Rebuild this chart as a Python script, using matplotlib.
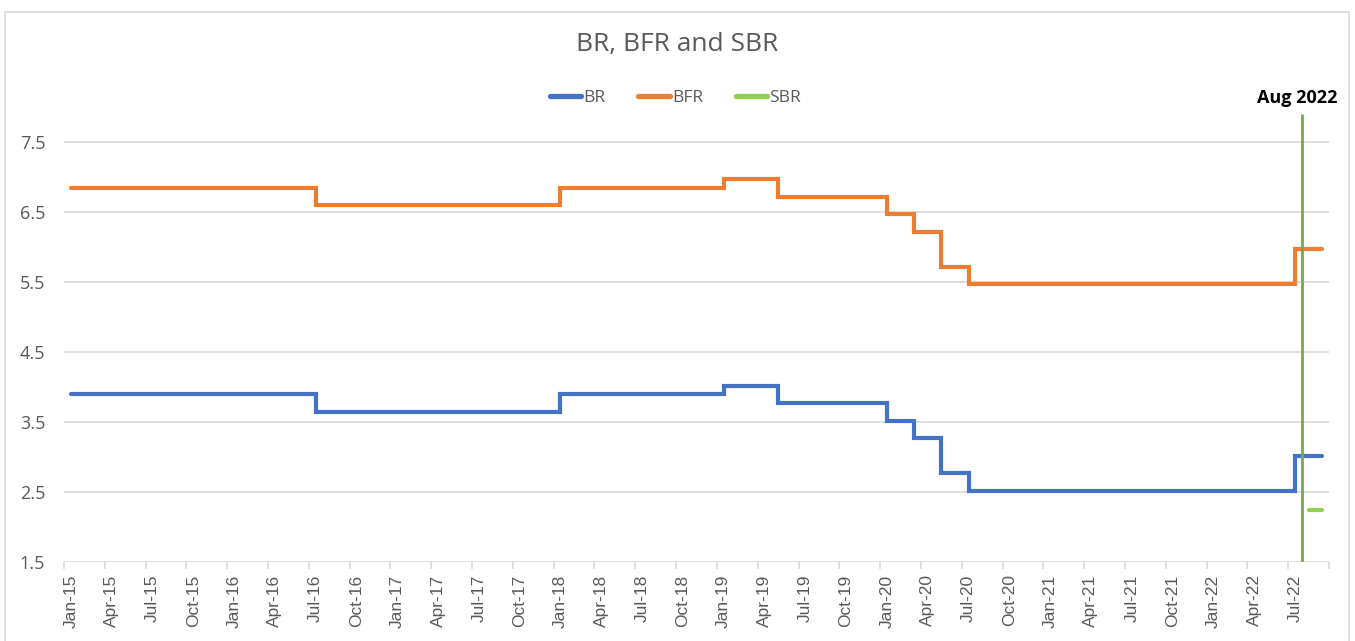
import matplotlib
matplotlib.use("Agg")
import matplotlib.pyplot as plt
from matplotlib.patches import Rectangle
from matplotlib.transforms import blended_transform_factory

# ---------------- data ----------------
start_year, start_month = 2015, 1
n_months = 93  # Jan-15 .. Sep-22

# (month index from Jan-15, value) change points -> step series
br_changes = [(0, 3.90), (18, 3.65), (36, 3.90), (48, 4.02), (52, 3.77),
              (60, 3.52), (62, 3.27), (64, 2.77), (66, 2.52), (90, 3.02)]
bfr_changes = [(0, 6.85), (18, 6.60), (36, 6.85), (48, 6.97), (52, 6.72),
               (60, 6.47), (62, 6.22), (64, 5.72), (66, 5.47), (90, 5.97)]
sbr_months = [91, 92]
sbr_values = [2.25, 2.25]

marker_month = 91.0       # Aug 2022 reference line
marker_label = "Aug 2022"
marker_top = 7.9

month_names = ["Jan", "Feb", "Mar", "Apr", "May", "Jun",
               "Jul", "Aug", "Sep", "Oct", "Nov", "Dec"]
yticks = [1.5, 2.5, 3.5, 4.5, 5.5, 6.5, 7.5]
title = "BR, BFR and SBR"

def expand(changes, n):
    vals = []
    idx = 0
    cur = changes[0][1]
    for m in range(n):
        while idx < len(changes) and changes[idx][0] <= m:
            cur = changes[idx][1]
            idx += 1
        vals.append(cur)
    return vals

months = list(range(n_months))
br = expand(br_changes, n_months)
bfr = expand(bfr_changes, n_months)

def label(m):
    y = start_year + (start_month - 1 + m) // 12
    mo = (start_month - 1 + m) % 12
    return f"{month_names[mo]}-{y % 100:02d}"

font_main = "Open Sans"

# ---------------- figure ----------------
W, H = 1355, 641
fig = plt.figure(figsize=(W / 100, H / 100), dpi=100)
fig.patch.set_facecolor("white")

fig.add_artist(Rectangle((5 / W, -0.02), (1349 - 5) / W, (H - 12) / H + 0.02,
                         transform=fig.transFigure, fill=False,
                         edgecolor="#D9D9D9", linewidth=1.2))

ax = fig.add_axes([64 / W, (H - 562) / H, (1329 - 64) / W, (562 - 72) / H])
ax.set_xlim(0, n_months)
ax.set_ylim(1.5, 8.5)

xc = [m + 0.5 for m in months]
lw = 3.0
ax.plot(xc, br, drawstyle="steps-post", color="#4472C4", lw=lw,
        solid_capstyle="round", solid_joinstyle="miter", label="BR", zorder=3)
ax.plot(xc, bfr, drawstyle="steps-post", color="#ED7D31", lw=lw,
        solid_capstyle="round", solid_joinstyle="miter", label="BFR", zorder=3)
ax.plot([m + 0.5 for m in sbr_months], sbr_values, color="#92D050", lw=lw,
        solid_capstyle="round", label="SBR", zorder=3)

ax.vlines(marker_month, 1.5, marker_top, color="#70AD47", lw=2, zorder=4)
tr = blended_transform_factory(ax.transData, fig.transFigure)
ax.text(marker_month - 0.3, (H - 98) / H, marker_label, ha="center", va="center",
        fontsize=13, fontweight="bold", color="black", family=font_main,
        transform=tr)

# grid
for y in yticks:
    ax.axhline(y, color="#D9D9D9", lw=1.2, zorder=1)

for s in ax.spines.values():
    s.set_visible(False)

ax.set_yticks(yticks)
ax.set_yticklabels([f"{v:.1f}" for v in yticks], fontsize=13, color="#595959",
                   family=font_main)
ax.tick_params(axis="y", length=0, pad=13.5)

major = list(range(0, n_months + 1, 3))
ax.set_xticks(major)
ax.set_xticklabels([])
ax.tick_params(axis="x", which="major", length=5, color="#D9D9D9", width=1.2)
minor = list(range(0, n_months, 3))
ax.set_xticks([m + 0.5 for m in minor], minor=True)
ax.set_xticklabels([label(m) for m in minor], minor=True, rotation=90,
                   fontsize=12.5, color="#595959", family="Liberation Sans")
ax.tick_params(axis="x", which="minor", length=0, pad=9)

fig.text(0.4995, (H - 45) / H, title, ha="center", va="center", fontsize=19,
         color="#595959", family=font_main)

leg = fig.legend(loc="center", bbox_to_anchor=(0.4985, (H - 98) / H), ncol=3,
                 frameon=False, handlelength=1.8,
                 handletextpad=0.12, columnspacing=1.9,
                 prop={"family": font_main, "size": 12.5})
for t in leg.get_texts():
    t.set_color("#595959")
for h in leg.get_lines():
    h.set_linewidth(3.8)
    h.set_solid_capstyle("round")

fig.savefig("out.png", dpi=100)
